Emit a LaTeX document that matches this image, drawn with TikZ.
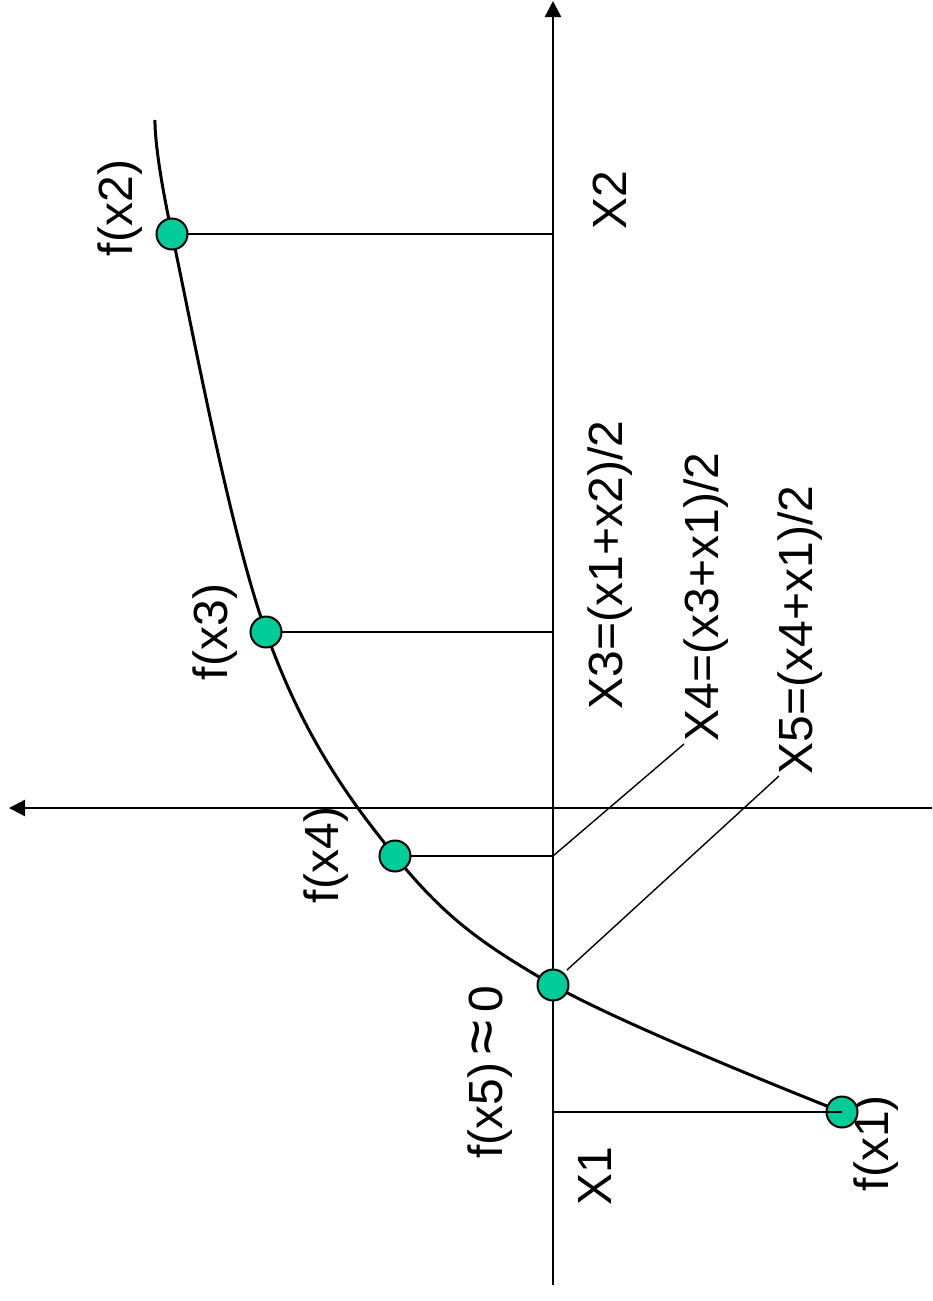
\documentclass[tikz,border=0pt]{standalone}
\usepackage{fontspec}
\setmainfont{Liberation Sans}
\usetikzlibrary{arrows.meta}
\definecolor{dotgreen}{RGB}{0,204,153}
\begin{document}
\begin{tikzpicture}[x=1pt,y=-1pt,
  axis/.style={line width=2.4pt,-{Triangle[length=16pt,width=16pt]}},
  curve/.style={line width=3pt},
  drop/.style={line width=2pt},
  lead/.style={line width=1.4pt},
  dot/.style={circle,draw=black,line width=2pt,fill=dotgreen,minimum size=31pt,inner sep=0pt},
  lbl/.style={rotate=90,font=\fontsize{48}{50}\selectfont,inner sep=0pt}]
\useasboundingbox (0,0) rectangle (932,1301);
% axes
\coordinate (yb) at (553,1285);
\coordinate (yt) at (553,1);
\coordinate (xr) at (932,808);
\coordinate (xl) at (9,808);
\draw[axis] (yb) -- (yt);
\draw[axis] (xr) -- (xl);
% curve
\coordinate (p2) at (172,234);
\coordinate (p3) at (266,632);
\coordinate (p4) at (395,856);
\coordinate (p5) at (553,985);
\coordinate (p1) at (842,1112);
\draw[curve] plot[smooth,tension=0.6] coordinates {(155,120) (172,234) (266,632) (395,856) (553,985) (842,1112)};
% foot points on axis
\coordinate (a2) at (553,234);
\coordinate (a3) at (553,632);
\coordinate (a4) at (553,856);
\coordinate (a1) at (553,1112);
% leader end points
\coordinate (l4) at (684,744);
\coordinate (l5s) at (567,970);
\coordinate (l5) at (779,776);
\draw[drop] (p2) -- (a2);
\draw[drop] (p3) -- (a3);
\draw[drop] (p4) -- (a4);
\draw[lead] (a4) -- (l4);
\draw[lead] (l5s) -- (l5);
% labels
\node[lbl] (tX2) at (610,200) {X2};
\node[lbl] (tX3) at (610,565) {X3=(x1+x2)/2};
\node[lbl] (tX4) at (706,597) {X4=(x3+x1)/2};
\node[lbl] (tX5) at (800,630) {X5=(x4+x1)/2};
\node[lbl] (tX1) at (595,1176) {X1};
\node[lbl] (tf2) at (120,208) {f(x2)};
\node[lbl] (tf3) at (215,632) {f(x3)};
\node[lbl] (tf4) at (326,855) {f(x4)};
\node[lbl] (tf5) at (490,1072) {f(x5)\hspace{8pt}{\fontsize{62}{50}\selectfont ≈}\hspace{8pt}0};
\node[lbl] (tf1) at (876,1143) {f(x1)};
% dots
\node[dot] (d2) at (p2) {};
\node[dot] (d3) at (p3) {};
\node[dot] (d4) at (p4) {};
\node[dot] (d5) at (p5) {};
\node[dot] (d1) at (p1) {};
\draw[drop] (a1) -- (d1.center);
\end{tikzpicture}
\end{document}
